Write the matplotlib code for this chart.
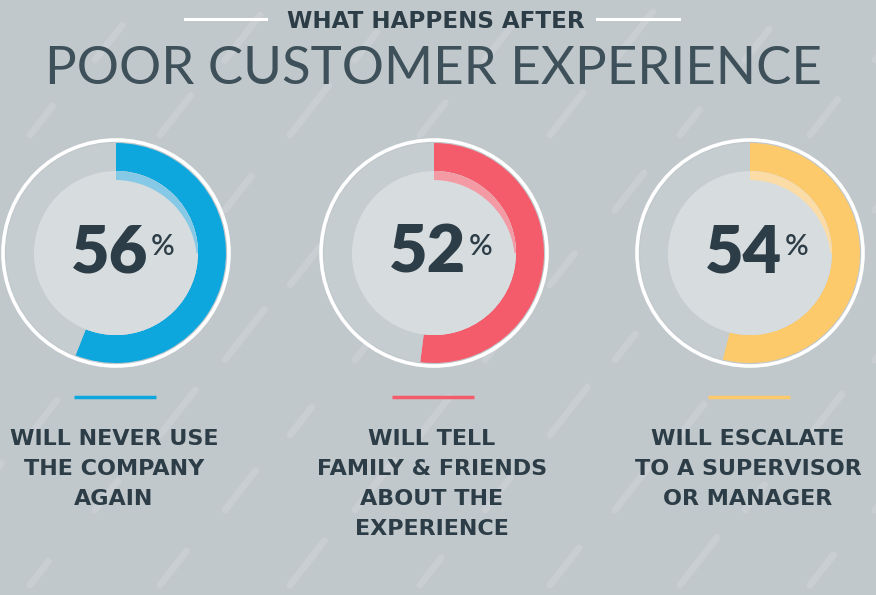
import numpy as np
import matplotlib.pyplot as plt
from matplotlib.patches import Circle, Wedge

# data
values = [56, 52, 54]
labels = [["WILL NEVER USE", "THE COMPANY", "AGAIN"],
          ["WILL TELL", "FAMILY & FRIENDS", "ABOUT THE", "EXPERIENCE"],
          ["WILL ESCALATE", "TO A SUPERVISOR", "OR MANAGER"]]
colors = ["#0ea7dd", "#f45b6b", "#fdca6b"]
light_colors = ["#86c9e6", "#f39aa4", "#fbdca6"]

W, H = 876, 595
BG = "#c1c8cb"
DARK = "#2c3d47"

fig = plt.figure(figsize=(W / 100, H / 100), dpi=100, facecolor=BG)
ax = fig.add_axes([0, 0, 1, 1])
ax.set_facecolor(BG)


def py(y):
    # pixel row from top -> data y
    return H - y


# background streaks (decoration)
ang = np.deg2rad(52)
for row in range(-2, 9):
    for col in range(-2, 9):
        x0 = col * 130 + (row % 2) * 65 + 30
        y0 = row * 75 + 10
        ln = 30 + (row * 7 + col * 13) % 35
        ax.plot([x0, x0 + ln * np.cos(ang)], [y0, y0 + ln * np.sin(ang)],
                color="#c8ced1", lw=5, solid_capstyle="round", zorder=0.5)

# header
ax.text(W / 2 - 2, py(21), "WHAT HAPPENS AFTER", ha="center", va="center",
        fontsize=16.6, fontweight="bold", color=DARK, family="DejaVu Sans")
ax.plot([185, 266], [py(19), py(19)], color="white", lw=2.2)
ax.plot([597, 679], [py(19), py(19)], color="white", lw=2.2)
ax.text(W / 2 - 5, py(70), "POOR CUSTOMER EXPERIENCE", ha="center", va="center",
        fontsize=38, fontweight="normal", color="#3e5059", family="Lato")

centers = [(116, 253), (434, 253), (750, 253)]
R_white, R_out, R_in = 113, 110, 82

for i, v in enumerate(values):
    cx, cy = centers[i][0], py(centers[i][1])
    ax.add_patch(Circle((cx, cy), R_white, fc="none", ec="white", lw=2.6, zorder=2))
    ax.pie([v, 100 - v], colors=[colors[i], "#c6cdd0"], startangle=90,
           counterclock=False, radius=R_out, center=(cx, cy),
           wedgeprops=dict(width=R_out - R_in, linewidth=0),
           frame=True)
    ax.add_patch(Circle((cx, cy), R_in, fc="#d7dcde", ec="none", zorder=3))
    # light crescent on the inner edge of the arc
    end = 90 - min(v, 25) * 3.6
    ax.add_patch(Wedge((cx, cy), R_in, end, 90, fc=light_colors[i], ec="none", zorder=3.1))
    clip = Circle((cx, cy), R_in, transform=ax.transData)
    sh = Circle((cx - 1, cy - 9), R_in, fc="#d7dcde", ec="none", zorder=3.2)
    ax.add_patch(sh)
    sh.set_clip_path(clip)
    ax.text(cx + 32, cy + 0, str(v), ha="right", va="center", fontsize=48,
            fontweight="heavy", color=DARK, family="Lato", zorder=4)
    ax.text(cx + 35, cy + 6, "%", ha="left", va="center", fontsize=21,
            fontweight="semibold", color=DARK, family="Lato", zorder=4)
    # colored underline
    ax.plot([cx - 42, cx + 40], [py(397), py(397)], color=colors[i], lw=2.5,
            solid_capstyle="butt", zorder=4)
    for j, line in enumerate(labels[i]):
        ax.text(cx - 2, py(445 + 30 * j), line, ha="center", va="baseline",
                fontsize=16, fontweight="bold", color=DARK,
                family="DejaVu Sans", zorder=4)

ax.set_xlim(0, W)
ax.set_ylim(0, H)
ax.set_aspect("equal")
ax.axis("off")
fig.savefig("out.png", dpi=100, facecolor=BG)
